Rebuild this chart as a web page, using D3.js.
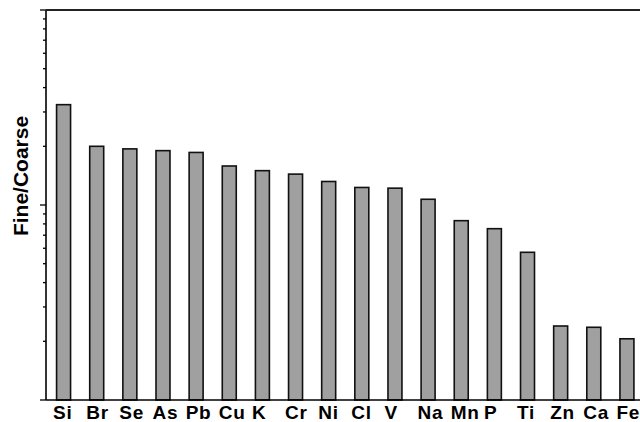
<!DOCTYPE html>
<html><head><meta charset="utf-8">
<script src="https://cdn.jsdelivr.net/npm/d3@7"></script>
<style>body{margin:0;background:#fff}svg{display:block}</style>
</head><body>
<svg id="c" width="640" height="422"></svg>
<script>
const categories = ["Si","Br","Se","As","Pb","Cu","K","Cr","Ni","Cl","V","Na","Mn","P","Ti","Zn","Ca","Fe"];
const ratios = [3.27,2.0,1.94,1.90,1.86,1.585,1.50,1.44,1.32,1.23,1.22,1.07,0.831,0.756,0.572,0.2396,0.236,0.206];
const yDomain = [0.1, 10];
const yLabel = "Fine/Coarse";

(function(){
const svg = d3.select("#c");
const mL = 46, mR = 640, mT = 10, mB = 400;
const x = d3.scaleBand().domain(categories).range([47, 643.5]).paddingInner(0.578).paddingOuter(0.289);
const y = d3.scaleLog().domain(yDomain).range([mB, mT]);

// bars
svg.append("g").selectAll("rect").data(categories).join("rect")
  .attr("x", d => x(d))
  .attr("width", x.bandwidth())
  .attr("y", (d,i) => y(ratios[i]))
  .attr("height", (d,i) => y(yDomain[0]) - y(ratios[i]))
  .attr("fill", "#a0a0a0").attr("stroke", "#111").attr("stroke-width", 1.6);

// left axis with log ticks
const ticks = y.ticks();
const gy = svg.append("g").attr("transform", `translate(${mL},0)`);
gy.selectAll("line").data(ticks).join("line")
  .attr("x1", d => Math.abs(Math.log10(d) - Math.round(Math.log10(d))) < 1e-9 ? -6 : -3)
  .attr("x2", 0)
  .attr("y1", d => y(d)).attr("y2", d => y(d))
  .attr("stroke", "#000").attr("stroke-width", 1.3);
gy.append("line").attr("x1",0).attr("x2",0).attr("y1",mT).attr("y2",mB).attr("stroke","#000").attr("stroke-width",1.6);

// frame top & bottom
svg.append("line").attr("x1",mL).attr("x2",mR).attr("y1",mT).attr("y2",mT).attr("stroke","#222").attr("stroke-width",1.8);
svg.append("line").attr("x1",mL).attr("x2",mR).attr("y1",mB).attr("y2",mB).attr("stroke","#000").attr("stroke-width",1.6);

// category labels
svg.append("g").selectAll("text").data(categories).join("text")
  .attr("x", d => x(d) - 3.5)
  .attr("y", 419)
  .attr("text-anchor", "start")
  .attr("font-family", "Liberation Sans, Arial, sans-serif")
  .attr("font-weight", "bold").attr("font-size", 19)
  .attr("letter-spacing", 0.8)
  .text(d => d);

// y label
svg.append("text")
  .attr("transform", "translate(28,176) rotate(-90)")
  .attr("text-anchor", "middle")
  .attr("font-family", "Liberation Sans, Arial, sans-serif")
  .attr("font-weight", "bold").attr("font-size", 21)
  .text(yLabel);
})();
</script>
</body></html>
